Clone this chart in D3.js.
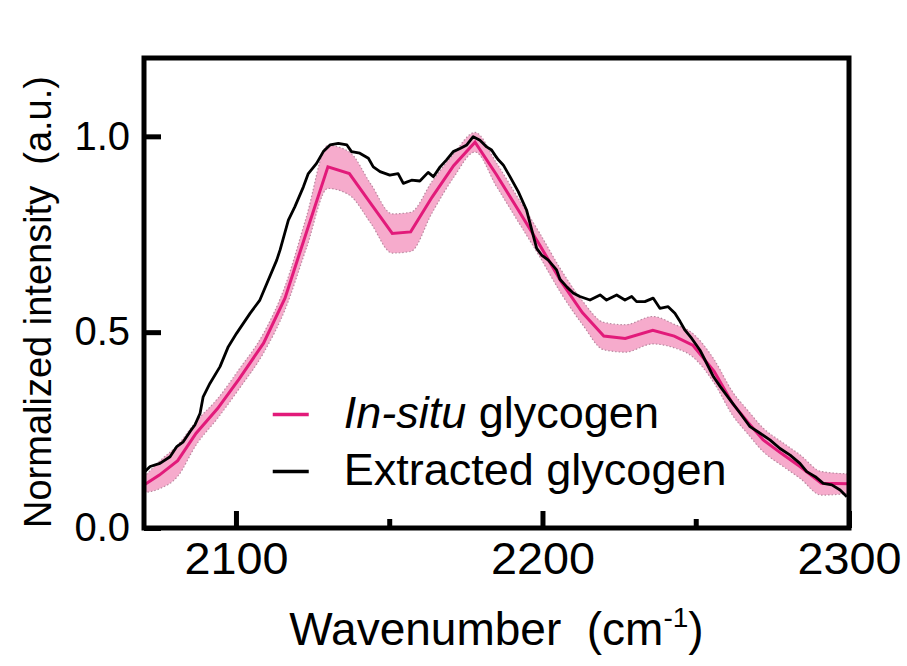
<!DOCTYPE html>
<html>
<head>
<meta charset="utf-8">
<script src="https://cdn.jsdelivr.net/npm/d3@7"></script>
<style>
  body { margin: 0; background: #fff; }
  svg { font-family: "Liberation Sans", Arial, sans-serif; }
</style>
</head>
<body>
<script>
// In-situ glycogen (mean and sd, coarse sampling)
var insituX = [2070, 2075, 2081, 2087, 2094, 2101, 2109, 2116, 2123, 2130, 2137, 2144, 2151, 2157, 2164, 2171, 2178,
               2185, 2192, 2199, 2206, 2213, 2220, 2227, 2236, 2243, 2249, 2256, 2262, 2267, 2272, 2278, 2284, 2291, 2300];
var insituMean = [0.110, 0.135, 0.172, 0.242, 0.305, 0.380, 0.472, 0.587, 0.755, 0.922, 0.905, 0.828, 0.752, 0.756, 0.845, 0.925, 0.985,
                  0.902, 0.813, 0.724, 0.630, 0.550, 0.490, 0.484, 0.505, 0.490, 0.467, 0.400, 0.318, 0.270, 0.225, 0.190, 0.157, 0.114, 0.113];
var insituSd = [0.020, 0.035, 0.040, 0.030, 0.025, 0.025, 0.025, 0.030, 0.040, 0.055, 0.055, 0.050, 0.050, 0.050, 0.040, 0.030, 0.025,
                0.030, 0.030, 0.030, 0.030, 0.030, 0.035, 0.035, 0.035, 0.030, 0.030, 0.030, 0.030, 0.030, 0.030, 0.030, 0.030, 0.030, 0.025];

// Extracted glycogen
var extractedX = [2070.3, 2072, 2075.2, 2078.5, 2080.7, 2082.8, 2085, 2086.6, 2088.3, 2089.3, 2091.5, 2094.8, 2097.5, 2100.2, 2104.6, 2107.8,
                  2113.3, 2114.4, 2117.1, 2119.2, 2122, 2123.6, 2126.3, 2128.5, 2130.7, 2133.4, 2136.2, 2137.7, 2140.4, 2143.2, 2144.8, 2147,
                  2150.2, 2152.9, 2154.6, 2157.3, 2160, 2162.7, 2164.4, 2166.6, 2168.7, 2170.9, 2173.1, 2175.3, 2177.4, 2179.6, 2181.8, 2183.4,
                  2184.5, 2185.6, 2187.2, 2189.4, 2192.1, 2194.8, 2196.5, 2198.1, 2199.7, 2201.9, 2204.6, 2205.7, 2208, 2210, 2212.2, 2215.5,
                  2218.8, 2220.9, 2224.2, 2226.9, 2229.1, 2230.7, 2233.4, 2236.1, 2238.3, 2241, 2243.2, 2244.9, 2246.5, 2248.7, 2251.4, 2253.6,
                  2255.8, 2258, 2261.2, 2264.5, 2267.7, 2271, 2274.2, 2277.5, 2280.8, 2284, 2286.2, 2289, 2291.6, 2294.4, 2297.1, 2299.3];
var extractedY = [0.144, 0.157, 0.165, 0.182, 0.208, 0.220, 0.246, 0.263, 0.293, 0.335, 0.369, 0.412, 0.463, 0.497, 0.548, 0.582,
                  0.684, 0.710, 0.786, 0.820, 0.871, 0.905, 0.931, 0.961, 0.978, 0.982, 0.978, 0.961, 0.957, 0.944, 0.922, 0.910,
                  0.901, 0.905, 0.880, 0.888, 0.886, 0.908, 0.897, 0.922, 0.940, 0.961, 0.969, 0.978, 0.999, 0.990, 0.973, 0.965,
                  0.952, 0.940, 0.927, 0.897, 0.859, 0.812, 0.761, 0.714, 0.697, 0.684, 0.659, 0.635, 0.615, 0.600, 0.591, 0.582,
                  0.595, 0.582, 0.595, 0.582, 0.591, 0.578, 0.578, 0.587, 0.561, 0.565, 0.548, 0.527, 0.505, 0.484, 0.454, 0.420,
                  0.386, 0.361, 0.327, 0.293, 0.259, 0.242, 0.225, 0.203, 0.186, 0.165, 0.144, 0.131, 0.114, 0.110, 0.097, 0.080];

var xTicks = [2100, 2200, 2300];
var xMinorTicks = [2150, 2250];
var yTicks = [0, 0.5, 1.0];
var legendLabels = ["In-situ", "Extracted glycogen"];

//Define Margin
var margin = {left: 144, right: 58, top: 58, bottom: 138},
    width = 907 - margin.left - margin.right,
    height = 666 - margin.top - margin.bottom;

var pink = "#e21a7a",
    bandFill = "#f6abcc";

var svg = d3.select("body")
    .append("svg")
    .attr("width", 907)
    .attr("height", 666)
    .append("g")
    .attr("transform", "translate(" + margin.left + "," + margin.top + ")");

//Define Scales
var xScale = d3.scaleLinear().domain([2070, 2300]).range([0, width]);
var yScale = d3.scaleLinear().domain([0, 1.2]).range([height, 0]);

var insitu = insituX.map(function(d, i) {
    return {x: d, m: insituMean[i], lo: insituMean[i] - insituSd[i], hi: insituMean[i] + insituSd[i]};
});
var extracted = extractedX.map(function(d, i) { return {x: d, y: extractedY[i]}; });

// sd band
var area = d3.area()
    .x(function(d) { return xScale(d.x); })
    .y0(function(d) { return yScale(d.lo); })
    .y1(function(d) { return yScale(d.hi); })
    .curve(d3.curveMonotoneX);

svg.append("path")
    .datum(insitu)
    .attr("d", area)
    .style("fill", bandFill)
    .style("stroke", "none");

// dotted edges of the band
["lo", "hi"].forEach(function(k) {
    svg.append("path")
        .datum(insitu)
        .attr("d", d3.line()
            .x(function(d) { return xScale(d.x); })
            .y(function(d) { return yScale(d[k]); })
            .curve(d3.curveMonotoneX))
        .style("fill", "none")
        .style("stroke", "#b98aa0")
        .style("stroke-width", 1.2)
        .style("stroke-dasharray", "1.5,2");
});

// mean line
svg.append("path")
    .datum(insitu)
    .attr("d", d3.line()
        .x(function(d) { return xScale(d.x); })
        .y(function(d) { return yScale(d.m); }))
    .style("fill", "none")
    .style("stroke", pink)
    .style("stroke-width", 3);

// extracted trace
svg.append("path")
    .datum(extracted)
    .attr("d", d3.line()
        .x(function(d) { return xScale(d.x); })
        .y(function(d) { return yScale(d.y); }))
    .style("fill", "none")
    .style("stroke", "#000")
    .style("stroke-width", 2.8)
    .style("stroke-linejoin", "round");

// x-axis (ticks pointing inward)
var gX = svg.append("g")
    .attr("transform", "translate(0," + height + ")")
    .call(d3.axisBottom(xScale).tickValues(xTicks).tickSize(-17).tickPadding(15).tickFormat(d3.format("d")));
// digits in the original are a bit wider than the font's
gX.selectAll("text")
    .style("font-size", "44px")
    .attr("textLength", 104)
    .attr("lengthAdjust", "spacingAndGlyphs");
svg.append("g")
    .attr("transform", "translate(0," + height + ")")
    .call(d3.axisBottom(xScale).tickValues(xMinorTicks).tickSize(-9).tickFormat(""));

// y-axis
var gY = svg.append("g")
    .call(d3.axisLeft(yScale).tickValues(yTicks).tickSize(-17).tickPadding(14).tickFormat(d3.format(".1f")));
gY.selectAll("text").style("font-size", "40px");

svg.selectAll(".domain").remove();
svg.selectAll(".tick line").style("stroke", "#000").style("stroke-width", 5);
svg.selectAll(".tick text").style("fill", "#000");

// frame
svg.append("rect")
    .attr("x", 0)
    .attr("y", 0)
    .attr("width", width)
    .attr("height", height)
    .style("fill", "none")
    .style("stroke", "#000")
    .style("stroke-width", 5);

// axis titles
var xt = svg.append("text")
    .attr("x", width / 2)
    .attr("y", height + 117)
    .style("text-anchor", "middle")
    .style("font-size", "46px")
    .attr("xml:space", "preserve");
xt.append("tspan").text("Wavenumber  (cm");
xt.append("tspan").attr("dy", -18).style("font-size", "28px").text("-1");
xt.append("tspan").attr("dy", 18).text(")");

svg.append("text")
    .attr("transform", "rotate(-90)")
    .attr("x", -244)
    .attr("y", -93)
    .style("text-anchor", "middle")
    .style("font-size", "38px")
    .attr("xml:space", "preserve")
    .text("Normalized intensity  (a.u.)");

// Legend
var legend = svg.append("g").attr("transform", "translate(" + xScale(2112) + "," + yScale(0.29) + ")");
legend.append("line").attr("x1", 0).attr("x2", 36).attr("y1", 0).attr("y2", 0)
    .style("stroke", pink).style("stroke-width", 3.5);
legend.append("line").attr("x1", 0).attr("x2", 36).attr("y1", 57).attr("y2", 57)
    .style("stroke", "#000").style("stroke-width", 3.5);
var l1 = legend.append("text").attr("x", 71).attr("y", 14).style("font-size", "45px");
l1.append("tspan").style("font-style", "italic").text(legendLabels[0]);
l1.append("tspan").text(" glycogen");
legend.append("text").attr("x", 71).attr("y", 71).style("font-size", "45px").text(legendLabels[1]);
</script>
</body>
</html>
